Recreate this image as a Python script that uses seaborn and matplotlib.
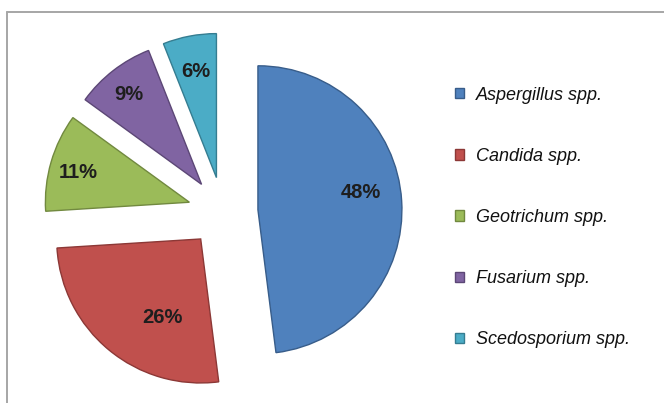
import numpy as np
import matplotlib
matplotlib.use("Agg")
import matplotlib.pyplot as plt
import seaborn as sns

# Share of isolates per fungal genus
genera = ["Aspergillus spp.", "Candida spp.", "Geotrichum spp.",
          "Fusarium spp.", "Scedosporium spp."]
shares = [48, 26, 11, 9, 6]

fill_colors = ["#4F81BD", "#C0504D", "#9BBB59", "#8064A2", "#4BACC6"]
edge_colors = ["#385D8A", "#8C3836", "#71893F", "#5C4776", "#357D91"]

sns.set_theme(style="white")
plt.rcParams["font.family"] = ["Liberation Sans", "DejaVu Sans"]

W, H = 664, 403
fig = plt.figure(figsize=(W / 100, H / 100), dpi=100)
ax = fig.add_axes([0, 0, 1, 1])

palette = sns.color_palette(fill_colors)
radius = 144
offset = 35  # how far every slice is pulled out from the centre
wedges, _, autotexts = ax.pie(
    shares,
    colors=palette,
    startangle=90,
    counterclock=False,
    radius=radius,
    center=(223, H - 212),
    explode=[offset] * len(shares),
    autopct=lambda p: f"{round(p)}%",
    pctdistance=0.7,
    textprops=dict(fontsize=14.5, fontweight="bold", color="#1e1e1e"),
    wedgeprops=dict(linewidth=1.0),
    frame=True,
)
ax.set_xlim(0, W)
ax.set_ylim(0, H)
ax.set_aspect("equal")
ax.axis("off")

# label placement: distance from the slice apex (fraction of radius) and
# a small anticlockwise turn (degrees) away from the slice bisector
label_dist = [0.726, 0.611, 0.80, 0.80, 0.747]
label_turn = [6.0, 13.5, 1.0, 1.3, 0.0]
for w, t, ec, d, turn in zip(wedges, autotexts, edge_colors, label_dist, label_turn):
    w.set_edgecolor(ec)
    ang = np.deg2rad((w.theta1 + w.theta2) / 2 + turn)
    cx, cy = w.center
    t.set_position((cx + d * w.r * np.cos(ang), cy + d * w.r * np.sin(ang)))

# outer chart frame (clipped at right and bottom)
ax.plot([7, W + 5], [H - 12, H - 12], color="#a6a6a6", lw=1.4, clip_on=False)
ax.plot([7, 7], [-5, H - 12], color="#a6a6a6", lw=1.4, clip_on=False)

leg = ax.legend(
    wedges, genera,
    loc="center left",
    bbox_to_anchor=(455, H - 217.5),
    bbox_transform=ax.transData,
    frameon=False,
    prop=dict(family=["Liberation Sans", "DejaVu Sans"], style="italic", size=13),
    handlelength=0.5,
    handleheight=0.5,
    handletextpad=0.65,
    labelspacing=2.45,
    borderpad=0,
    borderaxespad=0,
)
for txt in leg.get_texts():
    txt.set_color("#111111")

fig.savefig("out.png", dpi=100)
